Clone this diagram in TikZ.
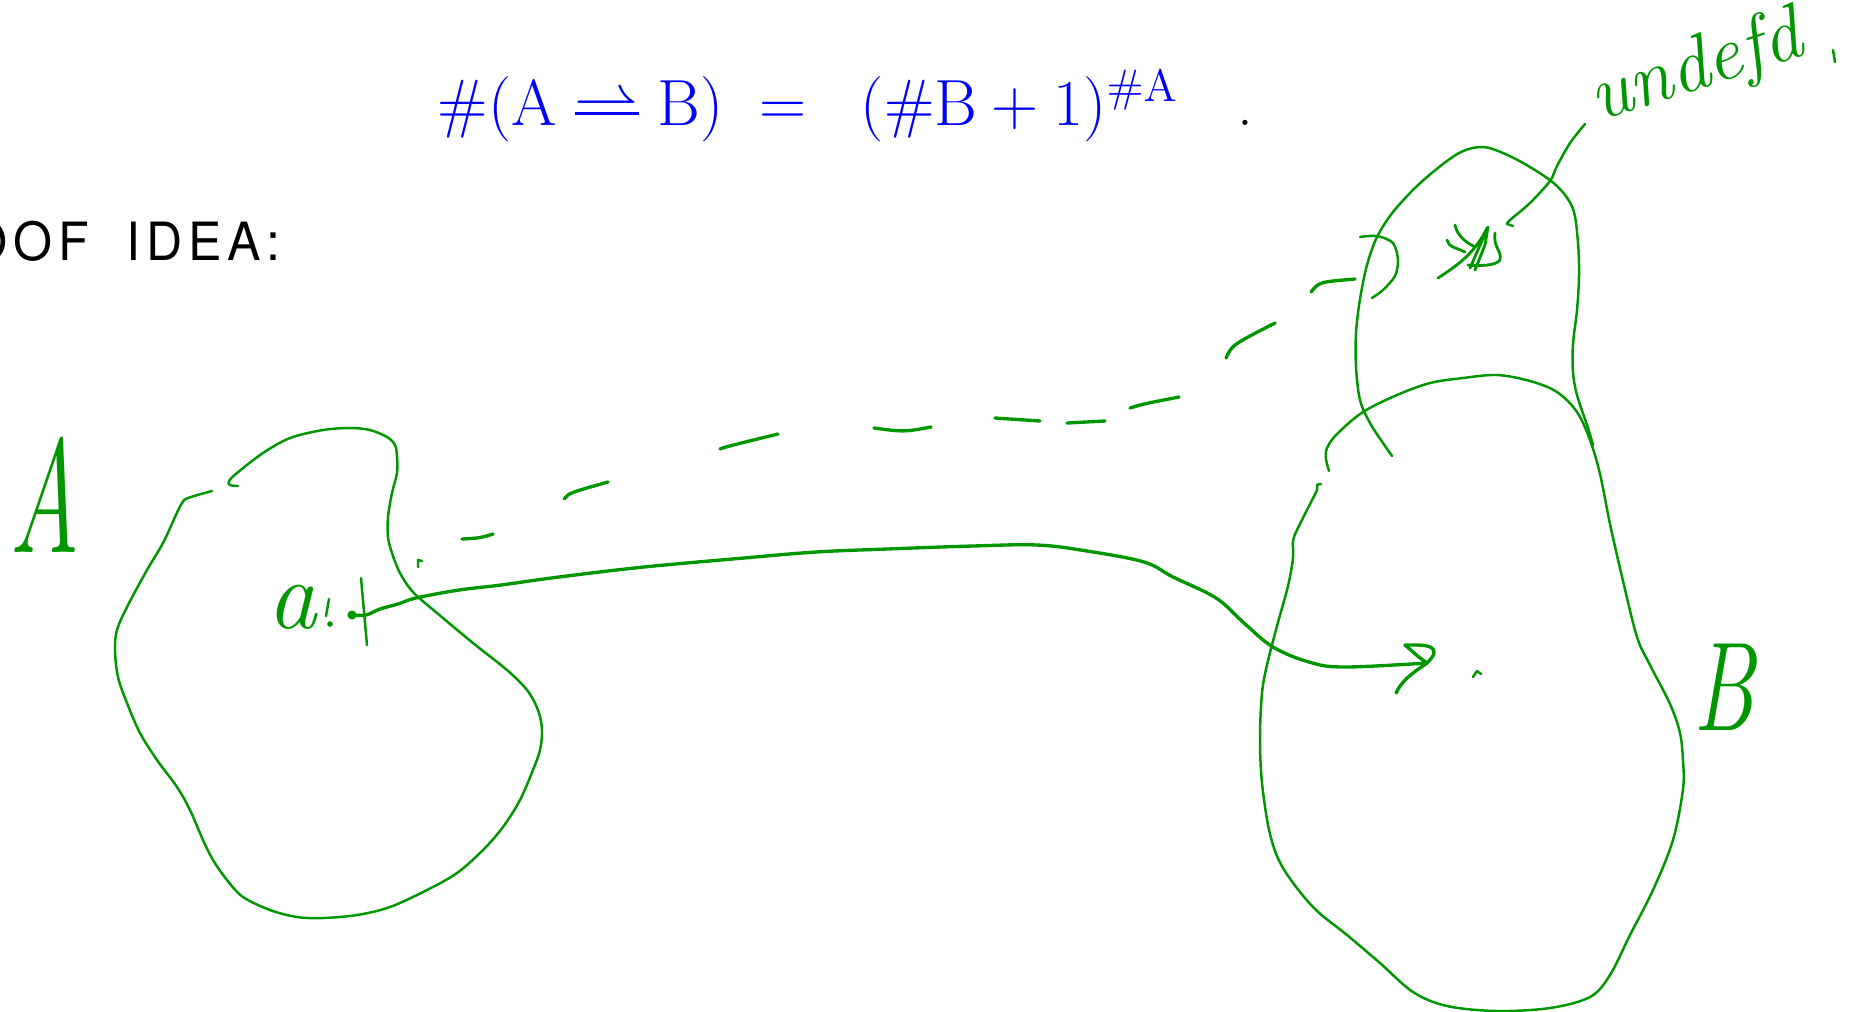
\documentclass[tikz,border=0pt]{standalone}
\usepackage[no-math]{fontspec}
\usepackage{graphicx}
\usetikzlibrary{arrows.meta,positioning}

\definecolor{penGreen}{RGB}{0,150,0}
\definecolor{penBlue}{RGB}{0,0,255}
\newfontfamily\headfont{TeX Gyre Heros}[LetterSpace=12]
\newcommand{\pmap}{\mathrel{\ooalign{\raisebox{.1em}{$\rightharpoonup$}\cr\rule[.14em]{.95em}{.045em}\hfil\cr}}}

\begin{document}
\begin{tikzpicture}[x=0.01cm, y=-0.01cm, line cap=round, line join=round,
  every node/.style={inner sep=0pt},
  pen/.style={draw=penGreen, line width=0.7pt},
  heavypen/.style={draw=penGreen, line width=0.95pt},
  hand/.style={text=penGreen}]
\useasboundingbox (0,0) rectangle (1854,1011);

% heading and the counting formula
\node[anchor=base east, font=\headfont\fontsize{15}{18}\selectfont] (head) at (281,260)
  {\scalebox{0.95}[1]{PROOF\hspace{.75em}IDEA\hspace{.1em}:}};
\node[anchor=base west, text=penBlue, font=\fontsize{18}{21}\selectfont] (law) at (437,125)
  {\scalebox{1.075}{$\#(\mathrm{A}\pmap\mathrm{B})\;=\;\;(\#\mathrm{B}+1)^{\#\mathrm{A}}$}};
\node[anchor=base, font=\fontsize{18}{21}\selectfont] (stop) at (1245,125) {.};

% the set A
\draw[pen] plot[smooth, tension=0.55] coordinates {(238,486) (230,485) (229,481) (237,473)
  (263,453) (290,438) (323,430) (350,428) (370,430) (387,437) (395,445) (397,457) (397,473)
  (392,493) (388,517) (388,537) (392,553) (400,573) (413,592) (437,613) (473,643) (507,670)
  (527,690) (538,710) (542,730) (540,750) (533,770) (520,800) (503,827) (483,850) (457,873)
  (427,890) (390,907) (357,915) (323,918) (297,917) (270,910) (243,897) (227,880) (213,860)
  (203,840) (190,810) (177,787) (157,760) (140,733) (127,703) (118,677) (115,650) (117,630)
  (127,607) (147,570) (163,543) (175,517) (182,503) (188,498) (212,491)};
\node[hand, font=\itshape\fontsize{46}{50}\selectfont] (labA) at (45,495) {\scalebox{0.6}[1]{A}};

% the point a
\coordinate (a) at (352,615);
\fill[penGreen] (a) circle (1.3pt);
\draw[pen] (361,578) -- (367,645);
\node[hand, font=\itshape\fontsize{28}{30}\selectfont] (labela) at (292,607) {a};
\draw[pen] (329,599) -- (326,616);
\fill[penGreen] (330,624) circle (0.8pt);
\draw[pen] (418,567) -- (418,560) -- (422,561);

% a is sent into B
\coordinate (fa) at (1427,663);
\draw[heavypen] plot[smooth, tension=0.6] coordinates {(a) (366,615) (380,609) (398,604)
  (416,598) (459,590) (501,585) (559,577) (644,567) (744,558) (816,552) (887,549) (973,546)
  (1037,545) (1087,551) (1144,562) (1173,577) (1216,598) (1244,623) (1273,647) (1309,662)
  (1344,667) (fa)};
\draw[heavypen] (fa) .. controls (1418,657) and (1411,650) .. (1405,645)
  .. controls (1418,645) and (1434,644) .. (1434,652) .. controls (1434,656) and (1430,660) .. (fa)
  .. controls (1414,672) and (1402,680) .. (1396,693);
\draw[pen] (1473,677) -- (1477,671) -- (1481,674);

% the set B, upper lump
\draw[pen] plot[smooth, tension=0.55] coordinates {(1392,456) (1383,443) (1370,423) (1360,400)
  (1356,367) (1356,333) (1360,299) (1367,265) (1377,237) (1393,212) (1417,186) (1443,164)
  (1463,151) (1483,147) (1503,153) (1530,167) (1557,186) (1573,209) (1578,243) (1579,276)
  (1577,310) (1573,344) (1573,372) (1577,395) (1588,428) (1593,445)};

% the set B, lower lump
\draw[pen] plot[smooth, tension=0.55] coordinates {(1329,471) (1326,459) (1327,448) (1337,434)
  (1363,412) (1397,395) (1430,383) (1463,378) (1497,375) (1530,381) (1557,392) (1577,412)
  (1590,440) (1600,474) (1610,524) (1623,581) (1637,637) (1650,665) (1670,704) (1680,733)
  (1683,761) (1683,789) (1673,840) (1653,890) (1630,935) (1610,975) (1590,997) (1550,1008)
  (1497,1011) (1447,1006) (1413,992) (1380,963) (1347,935) (1313,907) (1283,868) (1270,834)
  (1262,783) (1260,738) (1262,693) (1267,665) (1277,626) (1288,586) (1293,558) (1293,541)
  (1297,530) (1310,504) (1317,490) (1317,485) (1321,484)};
\node[hand, font=\itshape\fontsize{36}{40}\selectfont] (labB) at (1724,687) {\scalebox{0.7}[1]{B}};

% the undefined point
\coordinate (star) at (1476,252);
\draw[pen, line width=0.8pt] (1438,278) .. controls (1458,265) and (1475,253) .. (1487,228)
  (1455,225) .. controls (1457,235) and (1465,242) .. (1475,247)
  (1447,240) .. controls (1448,247) and (1457,248) .. (1465,252)
  (1470,268) -- (1488,227) -- (1485,245) -- (1475,270)
  (1495,233) .. controls (1493,248) and (1502,250) .. (1500,260)
  .. controls (1496,266) and (1478,266) .. (1468,265);
\node[hand, rotate=18, anchor=base, font=\itshape\fontsize{22}{24}\selectfont] (undef) at (1702,88) {undefd};
\draw[pen] (1833,50) -- (1835,62);
\draw[pen] plot[smooth] coordinates {(1585,124) (1570,143) (1557,166) (1550,181) (1530,203)
  (1510,220) (1507,224)} -- (1513,226);

% dashed way from a to the undefined point
\draw[heavypen] (462,539) .. controls (480,538) .. (493,534)
  (564,499) .. controls (569,493) .. (608,482)
  (720,449) .. controls (725,447) .. (778,434)
  (874,428) .. controls (904,432) .. (931,427)
  (995,418) .. controls (1017,420) .. (1040,421)
  (1067,423) -- (1105,421)
  (1130,408) .. controls (1143,404) .. (1179,397)
  (1226,358) .. controls (1232,345) .. (1275,323)
  (1311,292) .. controls (1319,282) .. (1355,279);
\draw[pen] plot[smooth] coordinates {(1360,237) (1377,236) (1393,243) (1398,260) (1395,276)
  (1383,290) (1372,298)};
\end{tikzpicture}
\end{document}
